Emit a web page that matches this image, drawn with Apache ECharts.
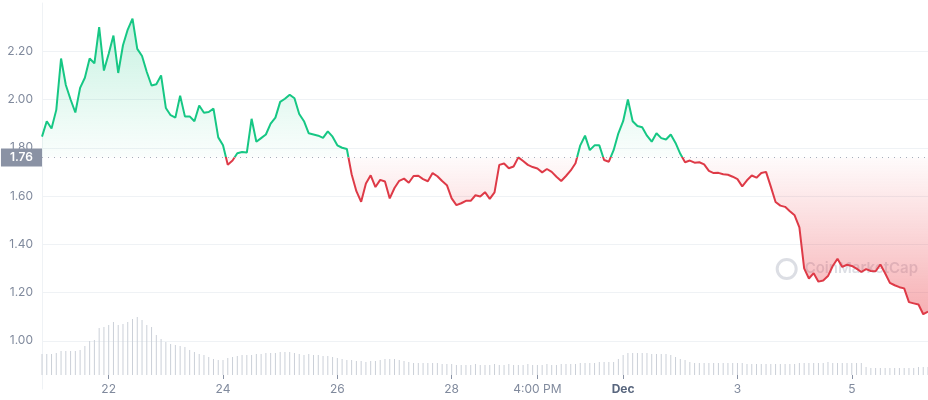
<!DOCTYPE html>
<html><head><meta charset="utf-8">
<script src="https://cdn.jsdelivr.net/npm/echarts@6/dist/echarts.min.js"></script>
<style>html,body{margin:0;padding:0;background:#fff}#c{width:928px;height:400px}</style>
</head><body><div id="c"></div>
<script>
// Price, every 2 hours starting Nov 20 20:00
const price = [
1.846,1.91,1.88,1.957,2.17,2.06,2.00,1.946,2.048,2.09,
2.17,2.15,2.30,2.12,2.19,2.265,2.11,2.225,2.29,2.335,
2.21,2.18,2.114,2.058,2.063,2.10,1.965,1.935,1.925,2.016,
1.93,1.93,1.91,1.975,1.945,1.948,1.962,1.843,1.81,1.73,
1.747,1.777,1.782,1.78,1.92,1.825,1.84,1.855,1.90,1.925,
1.99,2.003,2.02,2.005,1.94,1.91,1.86,1.855,1.85,1.841,
1.868,1.846,1.81,1.80,1.795,1.69,1.62,1.576,1.652,1.686,
1.637,1.667,1.66,1.59,1.633,1.663,1.672,1.655,1.683,1.684,
1.67,1.661,1.695,1.682,1.662,1.645,1.59,1.562,1.57,1.58,
1.58,1.603,1.598,1.616,1.588,1.615,1.729,1.735,1.715,1.722,
1.76,1.745,1.729,1.72,1.714,1.698,1.712,1.70,1.68,1.662,
1.683,1.706,1.736,1.81,1.85,1.79,1.81,1.81,1.749,1.742,
1.79,1.86,1.91,2.0,1.91,1.89,1.885,1.85,1.825,1.86,
1.84,1.834,1.855,1.82,1.775,1.74,1.747,1.738,1.74,1.731,
1.704,1.695,1.696,1.69,1.688,1.68,1.67,1.64,1.665,1.685,
1.676,1.695,1.70,1.639,1.575,1.56,1.555,1.537,1.52,1.47,
1.30,1.258,1.28,1.245,1.25,1.268,1.31,1.34,1.306,1.315,
1.31,1.299,1.285,1.297,1.289,1.288,1.316,1.28,1.24,1.23,
1.222,1.217,1.16,1.155,1.15,1.11,1.121
];
// Volume (millions), same timestamps
const volume = [
21,21,21,22,24,24,24,24,25,29,
34,35,47,48,50,53,50,51,53,56,
58,55,50,48,40,36,33,31,30,29,
28,25,23,21,20,18,16,15,15,17,
18,19,20,20,20,21,21,22,22,22,
23,23,23,22,21,20,21,20,20,19,
19,18,17,16,15,15,14,14,13,14,
14,15,16,16,16,15,14,13,12,12,
12,12,12,12,11,11,11,10,10,10,
10,11,10,10,10,11,10,10,11,10,
10,10,11,10,10,10,11,10,10,11,
11,11,11,12,12,12,12,13,13,13,
13,16,20,22,22,22,22,22,21,21,
21,21,20,18,16,15,13,12,12,12,
12,12,12,12,12,12,12,12,11,11,
11,11,11,11,11,11,11,11,11,12,
12,12,12,12,12,13,12,12,12,12,
12,12,12,8,7,7,7,7,7,7,
7,7,7,7,8,8,8
];
const baseline = 1.76;
const tickCategories = ['Nov 22 00:00','Nov 24 00:00','Nov 26 00:00','Nov 28 00:00','Nov 29 12:00','Dec 1 00:00','Dec 3 00:00','Dec 5 00:00'];
const tickLabels = ['22','24','26','28','4:00 PM','Dec','3','5'];

// category timestamps
const categories = [];
for (let i = 0; i < price.length; i++) {
  const h = 20 + i * 2;
  let d = 20 + Math.floor(h / 24), m = 'Nov';
  if (d > 30) { d -= 30; m = 'Dec'; }
  categories.push(m + ' ' + d + ' ' + String(h % 24).padStart(2, '0') + ':00');
}
const showTick = (idx, val) => tickCategories.indexOf(val) >= 0;

const GREEN = '#16c784', RED = '#de3a47';
const FONT = 'Inter';
const chart = echarts.init(document.getElementById('c'), null, {renderer: 'canvas'});
const option = {
  animation: false,
  textStyle: {fontFamily: FONT},
  grid: [
    {left: 42, right: 0, top: 3, bottom: 11},
    {left: 42, right: 0, bottom: 25, height: 100}
  ],
  xAxis: [
    {type: 'category', gridIndex: 0, data: categories, boundaryGap: false, show: false},
    {type: 'category', gridIndex: 1, data: categories, boundaryGap: false,
     axisLine: {show: false},
     axisTick: {show: true, interval: showTick, length: 4, lineStyle: {color: '#8a93a5'}},
     axisLabel: {interval: showTick, margin: 8, fontSize: 12, color: '#808a9d', fontFamily: FONT,
       formatter: v => { const k = tickCategories.indexOf(v); const t = k >= 0 ? tickLabels[k] : ''; return t === 'Dec' ? '{b|Dec}' : t; },
       rich: {b: {fontWeight: 'bold', color: '#58667e', fontSize: 12, fontFamily: FONT}}},
     splitLine: {show: false}}
  ],
  yAxis: [
    {type: 'value', gridIndex: 0, min: 0.8, max: 2.4, interval: 0.2,
     axisLine: {show: true, lineStyle: {color: '#eff2f5'}},
     axisTick: {show: false},
     axisLabel: {showMinLabel: false, showMaxLabel: false, margin: 9, fontSize: 12, color: '#808a9d', fontFamily: FONT,
       formatter: v => v.toFixed(2)},
     splitLine: {show: true, showMinLine: false, showMaxLine: false, lineStyle: {color: '#eff2f5', width: 1}}},
    {type: 'value', gridIndex: 1, min: 0, max: 100, show: false, splitLine: {show: false}}
  ],
  visualMap: {
    type: 'piecewise', show: false, seriesIndex: 0, dimension: 1,
    pieces: [{gt: 0, lte: baseline, color: RED}, {gt: baseline, lte: 10, color: GREEN}]
  },
  series: [
    {
      type: 'line', xAxisIndex: 0, yAxisIndex: 0, data: price,
      symbol: 'none', smooth: false,
      lineStyle: {width: 2},
      areaStyle: {origin: baseline, opacity: 1, color: 'rgba(22,199,132,0.1)'},
      markLine: {
        silent: true, symbol: 'none',
        lineStyle: {color: '#a7aebb', type: [1, 5], width: 1},
        label: {show: true, position: 'start', distance: 0, formatter: baseline.toFixed(2),
          color: '#fff', backgroundColor: '#8a92a4', padding: [3, 9, 3, 9], fontSize: 12, fontWeight: 600, fontFamily: FONT},
        data: [{yAxis: baseline}]
      },
      z: 3
    },
    {
      type: 'bar', xAxisIndex: 1, yAxisIndex: 1, data: volume,
      barWidth: 1, itemStyle: {color: '#cbd0d8'}, silent: true, z: 1
    }
  ],
  graphic: [{
    type: 'group', right: 10, top: 257, silent: true,
    children: [
      {type: 'circle', shape: {cx: 11, cy: 11, r: 9.5}, style: {fill: 'none', stroke: 'rgba(128,138,157,0.28)', lineWidth: 3}},
      {type: 'text', x: 29, y: 3, style: {text: 'CoinMarketCap', font: '600 15px Inter', fill: 'rgba(128,138,157,0.28)'}}
    ]
  }]
};
chart.setOption(option);
const yTop = chart.convertToPixel({yAxisIndex: 0}, Math.max.apply(null, price));
const yBase = chart.convertToPixel({yAxisIndex: 0}, baseline);
const yBot = chart.convertToPixel({yAxisIndex: 0}, Math.min.apply(null, price));
const f = (yBase - yTop) / (yBot - yTop);
chart.setOption({series: [{areaStyle: {origin: baseline, opacity: 1, color: new echarts.graphic.LinearGradient(0, yTop, 0, yBot, [
  {offset: 0, color: 'rgba(22,199,132,0.24)'},
  {offset: f, color: 'rgba(22,199,132,0.02)'},
  {offset: f, color: 'rgba(234,57,67,0.02)'},
  {offset: 1, color: 'rgba(234,57,67,0.4)'}
], true)}}]});
</script>
</body></html>
